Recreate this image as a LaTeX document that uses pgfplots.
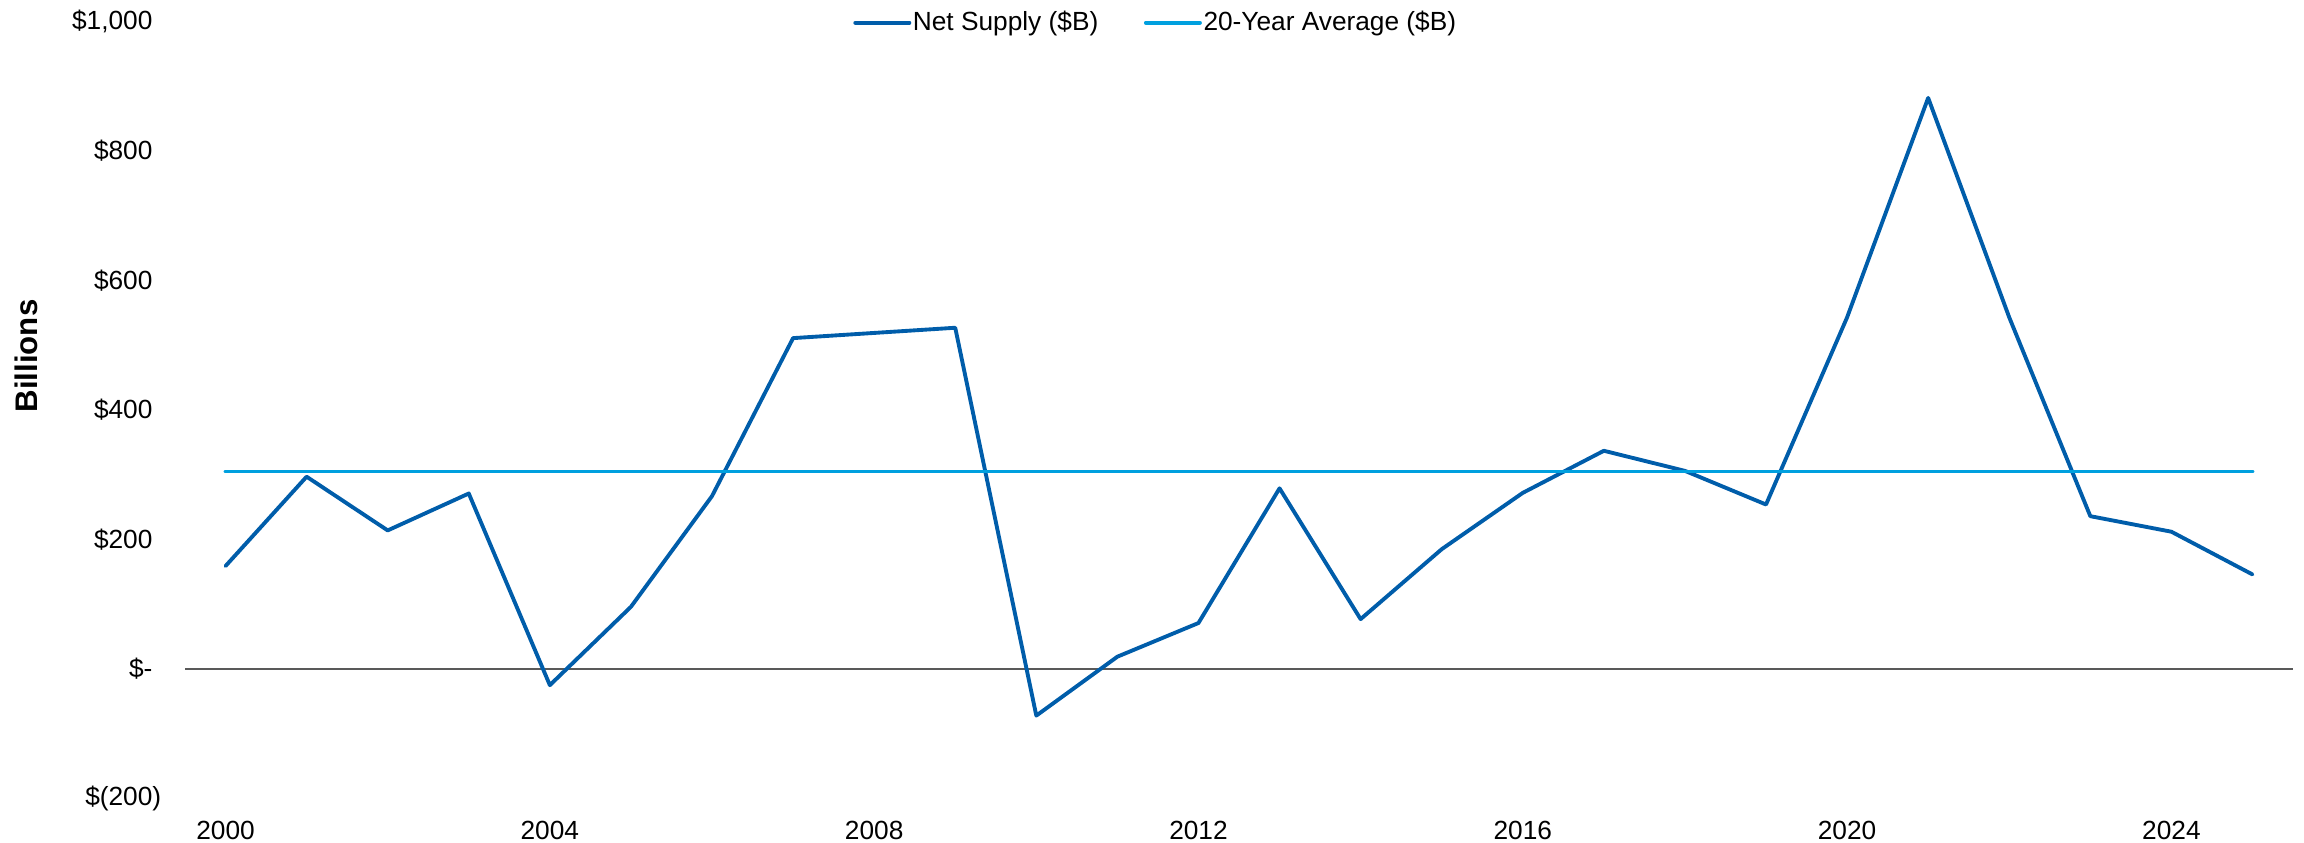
\documentclass[border=0pt]{standalone}
\usepackage{fontspec}
\setmainfont{Liberation Sans}
\usepackage{pgfplots}
\pgfplotsset{compat=1.18}
\usepackage{pgfplotstable}
\definecolor{netblue}{HTML}{005DAA}
\definecolor{avgblue}{HTML}{00A0DF}
\definecolor{zerogray}{HTML}{595959}

\pgfplotstableread{
year value
2000 159
2001 297
2002 214
2003 271
2004 -25
2005 96
2006 267
2007 511
2008 519
2009 527
2010 -72
2011 19
2012 71
2013 279
2014 77
2015 185
2016 272
2017 337
2018 306
2019 254
2020 543
2021 882
2022 543
2023 236
2024 212
2025 146
}\netsupply

\pgfplotstableread{
year value
2000 305
2025 305
}\avgtable

\begin{document}
\begin{tikzpicture}
\path[use as bounding box] (0,0) rectangle (864pt,316.125pt);
\begin{axis}[
  at={(69.375pt,16.6875pt)}, anchor=south west,
  scale only axis,
  width=790.5pt, height=291.375pt,
  xmin=1999.5, xmax=2025.5,
  ymin=-200, ymax=1000,
  axis line style={draw=none},
  major tick length=0pt,
  xtick={2000,2004,2008,2012,2016,2020,2024},
  xticklabels={2000,2004,2008,2012,2016,2020,2024},
  ytick={-200,0,200,400,600,800,1000},
  yticklabels={{\$(200\rlap{)}},{\$-},{\$200},{\$400},{\$600},{\$800},{\$1,000}},
  xticklabel style={font=\fontsize{9.85}{12}\selectfont, anchor=center, inner sep=0pt, yshift=-11.8pt},
  yticklabel style={font=\fontsize{9.85}{12}\selectfont, anchor=east, inner sep=0pt, xshift=-12pt},
  ylabel={Billions},
  every axis y label/.style={at={(axis description cs:-0.0754,0.5695)}, rotate=90, anchor=center, inner sep=0pt, font=\fontsize{11.7}{14}\selectfont\bfseries},
  legend columns=2,
  legend style={at={(axis description cs:0.4604,0.9984)}, anchor=center, draw=none, fill=none,
    inner sep=0pt, font=\fontsize{9.85}{12}\selectfont,
    nodes={inner sep=0.6pt},
    /tikz/every even column/.append style={column sep=16.5pt}},
  legend image code/.code={\draw[#1] (0pt,0pt) -- (20.3pt,0pt);},
  clip=false,
]
\draw[zerogray, line width=0.75pt] (rel axis cs:0,0.16667) -- (rel axis cs:1,0.16667);
\addplot[netblue, line width=1.45pt, line join=round, line cap=round] table[x=year,y=value] {\netsupply};
\addlegendentry{Net Supply (\$B)}
\addplot[avgblue, line width=1.45pt, line cap=round] table[x=year,y=value] {\avgtable};
\addlegendentry{20-Year Average (\$B)}
\end{axis}
\end{tikzpicture}
\end{document}
